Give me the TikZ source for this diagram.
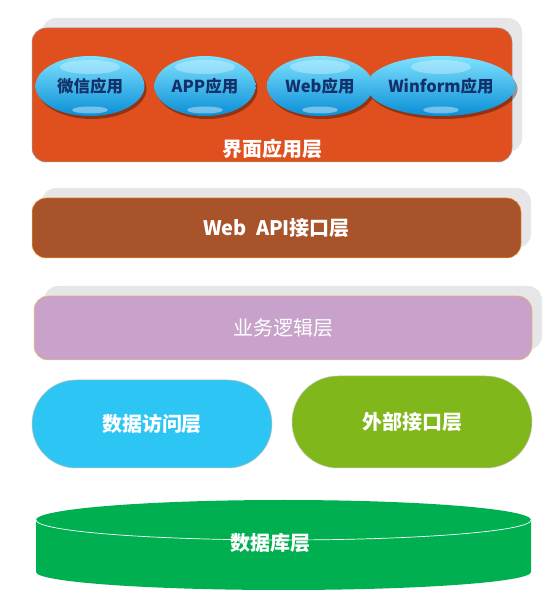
\documentclass[tikz,border=0pt]{standalone}
\usepackage{fontspec}
\setmainfont{Noto Sans CJK SC}
\usetikzlibrary{shapes.geometric, shadows, calc}
\definecolor{ink}{HTML}{12306A}
\definecolor{rule}{HTML}{9A9A9A}
\definecolor{shadowgray}{HTML}{E6E6E8}
\definecolor{uiorange}{HTML}{E0501E}
\definecolor{apibrown}{HTML}{A8532A}
\definecolor{apiedge}{HTML}{F2A43A}
\definecolor{bizpurple}{HTML}{C8A2CB}
\definecolor{bizedge}{HTML}{F2C45A}
\definecolor{dalcyan}{HTML}{2DC5F4}
\definecolor{extgreen}{HTML}{80B71A}
\definecolor{dbgreen}{HTML}{00AF50}
\definecolor{glosstop}{HTML}{7FE2FF}
\definecolor{glossmid}{HTML}{1FC1F2}
\definecolor{glossbot}{HTML}{0A8ED6}
\tikzset{
  %
  layer/.style={
    draw=rule, line width=0.5pt, rounded corners=14pt, text=white,
    inner sep=0pt, font=\fontsize{20}{23}\selectfont\bfseries,
  },
  backshadow/.style={drop shadow={shadow xshift=10pt, shadow yshift=10pt,
    fill=shadowgray, opacity=1}},
  layerui/.style={layer, fill=uiorange, backshadow},
  layerapi/.style={layer, draw=apiedge, fill=apibrown, backshadow},
  layerbiz/.style={layer, draw=bizedge, fill=bizpurple, backshadow},
  pill/.style={layer, draw=rule!60, rounded corners=44pt},
  %
  app/.style={
    ellipse, inner sep=0pt, minimum height=60pt, text=ink,
    top color=glosstop, middle color=glossmid, bottom color=glossbot,
    font=\fontsize{16.5}{19}\selectfont\bfseries,
    drop shadow={shadow xshift=2pt, shadow yshift=-3pt, fill=black, opacity=.35},
    path picture={
      \fill[white, opacity=.3] ($(path picture bounding box.north)+(0,-11)$)
        ellipse [x radius=30, y radius=7];
      \fill[white, opacity=.4] ($(path picture bounding box.south)+(0,6)$)
        ellipse [x radius=18, y radius=3.5];
    },
  },
  lbl/.style={text=white, inner sep=0pt, font=\fontsize{20}{23}\selectfont\bfseries},
}

\begin{document}
\begin{tikzpicture}[x=1pt, y=1pt]
  \useasboundingbox (0,0) rectangle (544,614);

  % interface layer
  \node[layerui, minimum width=480pt, minimum height=134pt] (ui) at (272,519) {};
  \node[app, minimum width=109pt] (wechat) at (90,528) {微信应用};
  \node[app, minimum width=101pt] (mobile) at (205,528) {APP应用};
  \node[app, minimum width=106pt] (web) at (320,528) {Web应用};
  \node[app, minimum width=122pt] (winform) at (441,528) {Winform应用};
  \node[lbl] (uilbl) at (272,465) {界面应用层};

  \node[layerapi, minimum width=489pt, minimum height=60pt] (api) at (276.5,386)
    {Web\ \ API接口层};

  \node[layerbiz, minimum width=498pt, minimum height=64pt, font=\fontsize{20}{23}\selectfont]
    (biz) at (283,286) {业务逻辑层};

  \node[pill, fill=dalcyan, minimum width=240pt, minimum height=88pt] (dal) at (152,190)
    {数据访问层};
  \node[pill, fill=extgreen, minimum width=240pt, minimum height=92pt, rounded corners=46pt]
    (ext) at (412,192) {外部接口层};

  % database cylinder
  \fill[dbgreen] (36,94) -- (36,42)
    arc[start angle=180, end angle=360, x radius=247.5, y radius=18]
    -- (531,94) arc[start angle=0, end angle=180, x radius=247.5, y radius=20] -- cycle;
  \draw[white, line width=0.7pt] (36,94)
    arc[start angle=180, end angle=360, x radius=247.5, y radius=20];
  \node[lbl] (db) at (270,71) {数据库层};

\end{tikzpicture}
\end{document}
